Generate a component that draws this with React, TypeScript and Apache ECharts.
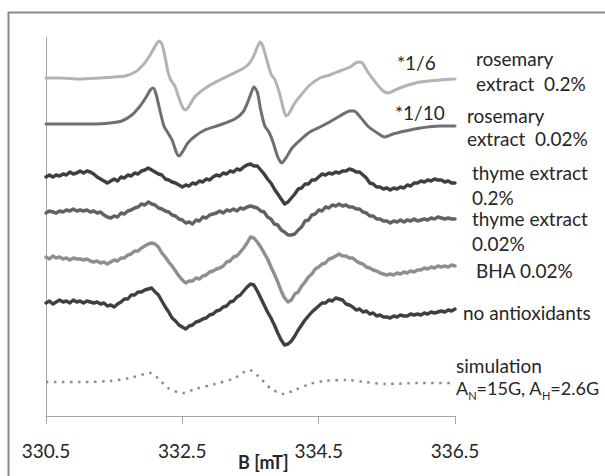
import React, { useEffect, useRef } from "react";
import * as echarts from "echarts";

// Magnetic field (mT) sampling of the recorded (noisy) spectra
const B_GRID = [
  330.5, 330.55, 330.6, 330.65, 330.7, 330.75, 330.8, 330.85, 330.9, 330.95,
  331.0, 331.05, 331.1, 331.15, 331.2, 331.25, 331.3, 331.35, 331.4, 331.45,
  331.5, 331.55, 331.6, 331.65, 331.7, 331.75, 331.8, 331.85, 331.9, 331.95,
  332.0, 332.05, 332.1, 332.15, 332.2, 332.25, 332.3, 332.35, 332.4, 332.45,
  332.5, 332.55, 332.6, 332.65, 332.7, 332.75, 332.8, 332.85, 332.9, 332.95,
  333.0, 333.05, 333.1, 333.15, 333.2, 333.25, 333.3, 333.35, 333.4, 333.45,
  333.5, 333.55, 333.6, 333.65, 333.7, 333.75, 333.8, 333.85, 333.9, 333.95,
  334.0, 334.05, 334.1, 334.15, 334.2, 334.25, 334.3, 334.35, 334.4, 334.45,
  334.5, 334.55, 334.6, 334.65, 334.7, 334.75, 334.8, 334.85, 334.9, 334.95,
  335.0, 335.05, 335.1, 335.15, 335.2, 335.25, 335.3, 335.35, 335.4, 335.45,
  335.5, 335.55, 335.6, 335.65, 335.7, 335.75, 335.8, 335.85, 335.9, 335.95,
  336.0, 336.05, 336.1, 336.15, 336.2, 336.25, 336.3, 336.35, 336.4, 336.45, 336.5,
];

const THYME_HI = [
  239, 241, 239, 241, 240, 242, 241, 244, 242, 243,
  245, 243, 245, 244, 242, 239, 237, 235, 233, 235,
  237, 235, 239, 238, 241, 240, 243, 242, 245, 246,
  248, 246, 244, 242, 241, 237, 236, 234, 233, 231,
  229, 231, 230, 233, 232, 235, 234, 237, 236, 239,
  241, 240, 243, 242, 245, 244, 247, 246, 249, 251,
  252, 250, 250, 246, 242, 237, 233, 227, 222, 217,
  212, 214, 218, 222, 227, 228, 232, 232, 236, 236,
  239, 242, 241, 243, 242, 244, 243, 245, 245, 247,
  246, 244, 244, 241, 238, 233, 232, 229, 229, 227,
  228, 226, 228, 227, 229, 228, 231, 230, 233, 233,
  235, 234, 236, 235, 237, 236, 236, 234, 235, 233, 233,
];

const THYME_LO = [
  203, 205, 204, 203, 205, 204, 206, 205, 207, 205,
  206, 205, 206, 204, 205, 203, 204, 201, 199, 198,
  200, 199, 203, 202, 205, 206, 208, 209, 212, 211,
  214, 212, 211, 208, 207, 205, 204, 201, 200, 197,
  196, 193, 194, 192, 196, 195, 199, 198, 201, 202,
  203, 205, 203, 206, 205, 207, 205, 208, 207, 209,
  210, 209, 208, 205, 204, 199, 197, 192, 191, 186,
  184, 181, 181, 182, 186, 189, 195, 196, 201, 202,
  206, 205, 209, 208, 211, 210, 212, 210, 211, 209,
  209, 207, 207, 204, 203, 200, 200, 197, 197, 195,
  195, 193, 195, 194, 196, 194, 196, 195, 197, 195,
  196, 197, 196, 198, 197, 199, 198, 197, 198, 197, 197,
];

const BHA = [
  159, 157, 160, 158, 159, 157, 158, 156, 158, 157,
  157, 156, 157, 155, 154, 155, 153, 154, 152, 154,
  156, 155, 158, 158, 161, 162, 165, 165, 168, 170,
  172, 173, 172, 169, 163, 159, 154, 150, 145, 140,
  136, 133, 135, 135, 138, 137, 140, 141, 144, 145,
  147, 148, 150, 154, 155, 159, 160, 164, 168, 173,
  179, 178, 174, 169, 163, 157, 149, 142, 134, 125,
  118, 114, 116, 122, 124, 130, 134, 139, 142, 147,
  149, 152, 153, 157, 158, 160, 162, 160, 160, 158,
  158, 155, 153, 152, 149, 148, 146, 145, 143, 142,
  141, 142, 141, 143, 142, 144, 143, 145, 144, 146,
  146, 148, 147, 149, 148, 150, 149, 150, 149, 151, 150,
];

const NO_ANTIOX = [
  113, 115, 112, 114, 116, 114, 115, 113, 116, 114,
  115, 113, 115, 114, 113, 114, 112, 113, 110, 111,
  109, 112, 114, 117, 117, 121, 121, 124, 124, 126,
  127, 128, 124, 121, 115, 109, 104, 98, 95, 91,
  89, 87, 90, 91, 94, 95, 97, 98, 101, 102,
  105, 106, 109, 110, 114, 115, 119, 121, 125, 129,
  132, 131, 125, 118, 111, 104, 98, 91, 83, 76,
  71, 72, 75, 80, 86, 91, 96, 100, 104, 107,
  110, 113, 113, 116, 115, 118, 117, 116, 112, 111,
  109, 106, 107, 104, 105, 102, 103, 100, 101, 99,
  99, 98, 100, 99, 101, 100, 100, 102, 101, 102,
  101, 103, 102, 104, 103, 104, 105, 104, 106, 105, 107,
];

// Rosemary 0.2% (scaled *1/6)
const ROSE_HI_B = [
  330.5, 330.71, 331.0, 331.29, 331.51, 331.66, 331.81, 331.91, 332.0, 332.07,
  332.13, 332.16, 332.2, 332.25, 332.29, 332.33, 332.39, 332.45, 332.51, 332.55,
  332.6, 332.67, 332.76, 332.91, 333.05, 333.2, 333.35, 333.46, 333.54, 333.6,
  333.64, 333.68, 333.74, 333.8, 333.86, 333.92, 333.98, 334.02, 334.06, 334.14,
  334.23, 334.37, 334.52, 334.66, 334.81, 334.96, 335.08, 335.14, 335.22, 335.33,
  335.43, 335.52, 335.62, 335.77, 335.99, 336.28, 336.5,
];
const ROSE_HI_V = [
  338, 338, 337, 338, 339, 340, 344, 350, 358, 366,
  373, 375, 372, 358, 344, 336, 330, 318, 308, 306,
  310, 318, 324, 331, 336, 341, 346, 351, 359, 369,
  374, 370, 356, 342, 336, 324, 308, 300, 302, 312,
  320, 331, 338, 341, 345, 349, 354, 353, 344, 334,
  326, 323, 326, 330, 334, 336, 337,
];

// Rosemary 0.02% (scaled *1/10)
const ROSE_LO_B = [
  330.5, 330.85, 331.22, 331.44, 331.61, 331.76, 331.88, 331.97, 332.03, 332.07,
  332.11, 332.17, 332.23, 332.29, 332.35, 332.41, 332.45, 332.51, 332.58, 332.69,
  332.83, 333.05, 333.27, 333.39, 333.46, 333.52, 333.55, 333.6, 333.65, 333.71,
  333.77, 333.83, 333.9, 333.96, 334.02, 334.11, 334.23, 334.37, 334.52, 334.66,
  334.81, 334.96, 335.02, 335.11, 335.22, 335.36, 335.47, 335.59, 335.77, 335.99,
  336.28, 336.5,
];
const ROSE_LO_V = [
  292, 292, 292, 293, 295, 301, 310, 319, 326, 328,
  323, 306, 290, 283, 276, 264, 260, 265, 273, 280,
  286, 291, 297, 304, 314, 325, 329, 324, 306, 290,
  284, 274, 259, 253, 258, 268, 276, 284, 289, 294,
  300, 305, 305, 299, 290, 283, 279, 282, 285, 288,
  290, 290,
];

// Simulation (A_N = 15 G, A_H = 2.6 G)
const SIM_B = [
  330.5, 331.0, 331.44, 331.73, 331.95, 332.03, 332.14, 332.29, 332.51, 332.69,
  332.98, 333.27, 333.48, 333.61, 333.79, 333.99, 334.15, 334.37, 334.59, 334.92,
  335.18, 335.49, 335.99, 336.5,
];
const SIM_V = [34, 34, 35, 38, 42, 43, 38, 28, 23, 27, 32, 38, 46, 40, 28, 22, 26, 32, 35, 36, 34, 32, 33, 33];

const X_TICKS = [330.5, 332.5, 334.5, 336.5];

const FONT = "Lato, 'Noto Sans', sans-serif";
const TEXT_COLOR = "#262626";

export default function App() {
  const ref = useRef<HTMLDivElement>(null);
  useEffect(() => {
    const chart = echarts.init(ref.current!, null, { renderer: "svg" });
    const pairs = (xs: number[], ys: number[]) => xs.map((x, i) => [x, ys[i]]);
    const line = (name: string, data: number[][], color: string, extra: any = {}) => ({
      type: "line",
      name,
      data,
      symbol: "none",
      showSymbol: false,
      silent: true,
      clip: false,
      lineStyle: { color, width: 3, join: "round", cap: "round", ...(extra.lineStyle || {}) },
      itemStyle: { color },
      smooth: extra.smooth ?? false,
    });
    const label = (text: string, x: number, y: number, extra: any = {}) => ({
      type: "text",
      x,
      y,
      silent: true,
      style: {
        text,
        fontSize: 19,
        fontFamily: FONT,
        fill: TEXT_COLOR,
        verticalAlign: "middle",
        align: "left",
        ...extra,
      },
    });
    chart.setOption({
      animation: false,
      backgroundColor: "#ffffff",
      grid: { left: 46, right: 150, top: 37, bottom: 60 },
      xAxis: {
        type: "value",
        min: 330.5,
        max: 336.5,
        axisLine: { show: true, lineStyle: { color: "#a6a6a6", width: 1 } },
        axisTick: { show: true, length: 8, lineStyle: { color: "#a6a6a6" }, customValues: X_TICKS },
        axisLabel: {
          customValues: X_TICKS,
          margin: 25,
          fontSize: 19,
          fontFamily: FONT,
          color: TEXT_COLOR,
          formatter: (v: number) => v.toFixed(1),
        },
        splitLine: { show: false },
      },
      yAxis: {
        type: "value",
        min: 0,
        max: 379,
        axisLine: { show: true, lineStyle: { color: "#a6a6a6", width: 1 } },
        axisTick: { show: false },
        axisLabel: { show: false },
        splitLine: { show: false },
      },
      series: [
        line("rosemary extract 0.2%", pairs(ROSE_HI_B, ROSE_HI_V), "#b3b3b3", { smooth: 0.25 }),
        line("rosemary extract 0.02%", pairs(ROSE_LO_B, ROSE_LO_V), "#6f6f6f", { smooth: 0.25 }),
        line("thyme extract 0.2%", pairs(B_GRID, THYME_HI), "#3f3f3f", { lineStyle: { width: 3.4 } }),
        line("thyme extract 0.02%", pairs(B_GRID, THYME_LO), "#626262", { lineStyle: { width: 3.4 } }),
        line("BHA 0.02%", pairs(B_GRID, BHA), "#8f8f8f", { lineStyle: { width: 3.4 } }),
        line("no antioxidants", pairs(B_GRID, NO_ANTIOX), "#404040", { lineStyle: { width: 3.4 } }),
        line("simulation", pairs(SIM_B, SIM_V), "#8c8c8c", {
          smooth: 0.3,
          lineStyle: { type: [2.5, 5.5], width: 2.5, cap: "butt" },
        }),
      ],
      graphic: [
        {
          type: "rect",
          silent: true,
          shape: { x: 8.5, y: 12.5, width: 700, height: 600 },
          style: { fill: "none", stroke: "#8a8a8a", lineWidth: 2 },
        },
        label("*1/6", 397, 62),
        label("rosemary", 476, 58),
        label("extract  0.2%", 476, 83),
        label("*1/10", 395, 112),
        label("rosemary", 467, 115),
        label("extract  0.02%", 467, 138),
        label("thyme extract", 472, 172),
        label("0.2%", 472, 197),
        label("thyme extract", 472, 218),
        label("0.02%", 472, 243),
        label("BHA 0.02%", 476, 270),
        label("no antioxidants", 463, 312),
        label("simulation", 456, 365),
        label("A{s|N}=15G, A{s|H}=2.6G", 456, 388, {
          fontSize: 18,
          lineHeight: 26,
          rich: { s: { fontSize: 11, fontFamily: FONT, fill: TEXT_COLOR, verticalAlign: "bottom" } },
        }),
        label("B [mT]", 238, 462, { fontWeight: "bold", fontSize: 18 }),
      ],
    });
    return () => chart.dispose();
  }, []);
  return (
    <div
      ref={ref}
      style={{ position: "fixed", left: 0, top: 0, width: 605, height: 476, background: "#fff" }}
    />
  );
}
